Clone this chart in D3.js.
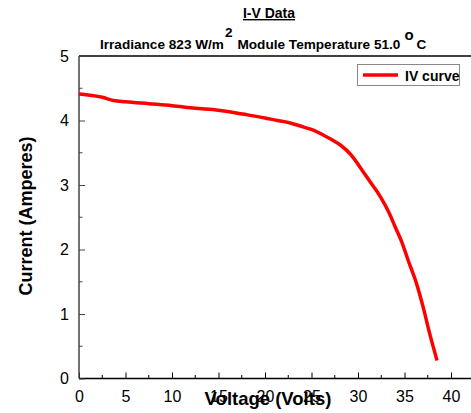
<!DOCTYPE html>
<html><head><meta charset="utf-8">
<script src="https://cdn.jsdelivr.net/npm/d3@7"></script>
<style>body{margin:0;background:#fff;}svg{display:block;font-family:"Liberation Sans",Arial,sans-serif;}</style>
</head><body>
<script>
const voltage = [0, 1.2, 2.5, 3.7, 5, 7.5, 10, 12.5, 15, 17.6, 20, 21.3, 22.5, 24.1, 25.2, 26.2, 27.2, 28.1, 29.3, 30.2, 31.3, 32.4, 33.3, 34.0, 34.7, 35.4, 36.3, 37.0, 37.7, 38.5];
const current = [4.41, 4.39, 4.36, 4.31, 4.29, 4.26, 4.23, 4.19, 4.16, 4.10, 4.04, 4.00, 3.97, 3.90, 3.85, 3.78, 3.70, 3.62, 3.46, 3.28, 3.05, 2.82, 2.58, 2.35, 2.12, 1.83, 1.47, 1.11, 0.70, 0.28];
const xTicks = [0, 5, 10, 15, 20, 25, 30, 35, 40];
const yTicks = [0, 1, 2, 3, 4, 5];
const seriesName = "IV curve";
const title = "I-V Data";

const W = 471, H = 413;
const svg = d3.select("body").append("svg").attr("width", W).attr("height", H);
const x = d3.scaleLinear().domain([0, 42.15]).range([79, 471]);
const y = d3.scaleLinear().domain([0, 5]).range([378.5, 56]);

// top frame
svg.append("line").attr("x1", 79).attr("x2", 471).attr("y1", y(5)).attr("y2", y(5))
  .attr("stroke", "#000").attr("stroke-width", 1.5);

// x axis
const xAxis = d3.axisBottom(x).tickValues(xTicks).tickSize(-6).tickPadding(12).tickFormat(d3.format("d"));
const gx = svg.append("g").attr("transform", `translate(0,${y(0)})`).call(xAxis);
gx.select(".domain").attr("stroke", "#000").attr("stroke-width", 1.5).attr("d", `M79,0H471`);
gx.selectAll(".tick text").attr("font-size", 16).attr("fill", "#000").attr("dy", "0.71em");
const xMinor = d3.range(2.5, 42, 5);
gx.selectAll(".minor").data(xMinor).enter().append("line").attr("class", "minor")
  .attr("x1", d => x(d)).attr("x2", d => x(d)).attr("y1", 0).attr("y2", -3.5).attr("stroke", "#000");

// y axis
const yAxis = d3.axisLeft(y).tickValues(yTicks).tickSize(-6).tickPadding(10).tickFormat(d3.format("d"));
const gy = svg.append("g").attr("transform", `translate(79,0)`).call(yAxis);
gy.select(".domain").attr("stroke", "#444").attr("stroke-width", 1.5).attr("d", `M0,${y(0)}V${y(5)}`);
gy.selectAll(".tick line").attr("stroke", "#444");
gy.selectAll(".tick text").attr("font-size", 16).attr("fill", "#000");
const yMinor = d3.range(0.5, 5, 1);
gy.selectAll(".minor").data(yMinor).enter().append("line").attr("class", "minor")
  .attr("y1", d => y(d)).attr("y2", d => y(d)).attr("x1", 0).attr("x2", 3.5).attr("stroke", "#444");

// curve
const pts = voltage.map((v, i) => [v, current[i]]);
svg.append("path").datum(pts)
  .attr("fill", "none").attr("stroke", "#ff0000").attr("stroke-width", 3.5)
  .attr("stroke-linejoin", "round")
  .attr("d", d3.line().curve(d3.curveMonotoneX).x(d => x(d[0])).y(d => y(d[1])));

// titles
svg.append("text").attr("x", 269).attr("y", 18).attr("text-anchor", "middle")
  .attr("font-size", 14).attr("font-weight", "bold").attr("text-decoration", "underline").text(title);
const sub = svg.append("text").attr("x", 100).attr("y", 49).attr("font-size", 13.6).attr("font-weight", "bold");
sub.append("tspan").text("Irradiance 823 W/m");
sub.append("tspan").attr("dy", -12).attr("dx", 1).text("2");
sub.append("tspan").attr("dy", 12).attr("dx", 5).text("Module Temperature 51.0");
sub.append("tspan").attr("dy", -9).attr("dx", 4).attr("font-size", 15).text("o");
sub.append("tspan").attr("dy", 9).attr("dx", 3).text("C");

// axis labels
svg.append("text").attr("transform", "translate(32,216) rotate(-90)").attr("text-anchor", "middle")
  .attr("font-size", 18).attr("font-weight", "bold").text("Current (Amperes)");
svg.append("text").attr("x", 268).attr("y", 405).attr("text-anchor", "middle")
  .attr("font-size", 18.5).attr("font-weight", "bold").text("Voltage (Volts)");

// legend
svg.append("rect").attr("x", 357.5).attr("y", 64.5).attr("width", 102).attr("height", 21)
  .attr("fill", "#fff").attr("stroke", "#888").attr("stroke-width", 1);
svg.append("line").attr("x1", 363).attr("x2", 398).attr("y1", 75).attr("y2", 75)
  .attr("stroke", "#ff0000").attr("stroke-width", 3.5);
svg.append("text").attr("x", 405).attr("y", 80.5).attr("font-size", 14).attr("font-weight", "bold").text(seriesName);
</script>
</body></html>
